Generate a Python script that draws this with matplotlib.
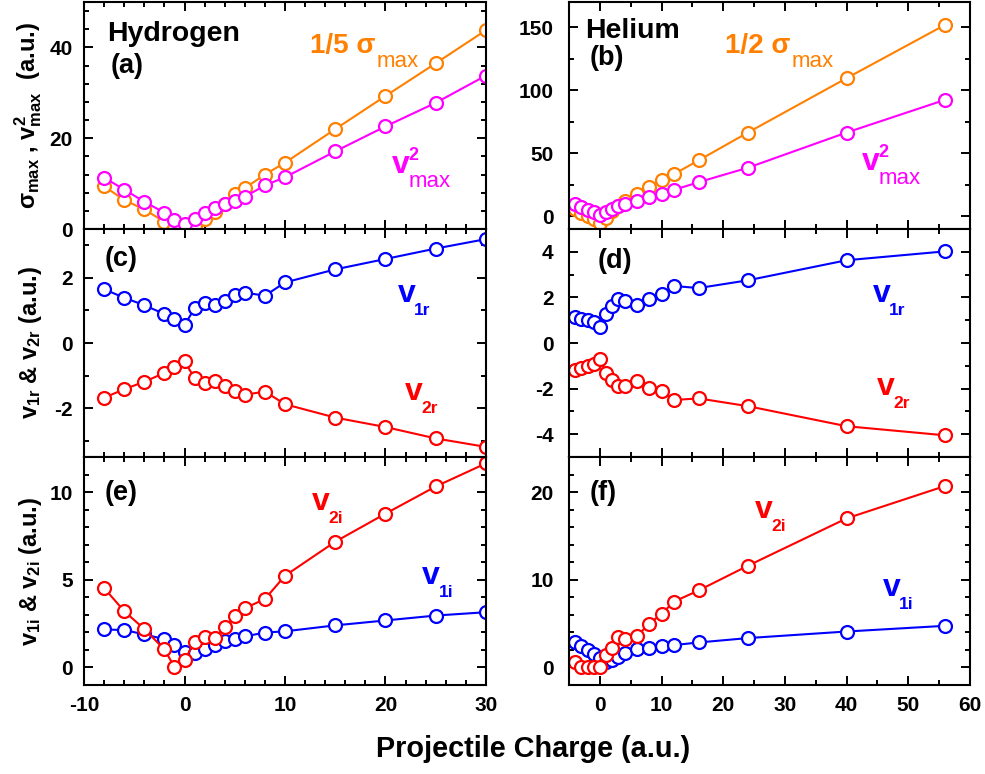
import numpy as np
import matplotlib
matplotlib.use('Agg')
import matplotlib.pyplot as plt
from matplotlib.ticker import MultipleLocator

plt.rcParams['font.family'] = ['Liberation Sans', 'DejaVu Sans']
plt.rcParams['font.weight'] = 'bold'
plt.rcParams['axes.labelweight'] = 'bold'
plt.rcParams['axes.unicode_minus'] = False
plt.rcParams['mathtext.fontset'] = 'custom'
plt.rcParams['mathtext.rm'] = 'Liberation Sans:bold'
plt.rcParams['mathtext.it'] = 'Liberation Sans:bold'
plt.rcParams['mathtext.bf'] = 'Liberation Sans:bold'

# projectile charges
q_h = [-8, -6, -4, -2, -1, 0, 1, 2, 3, 4, 5, 6, 8, 10, 15, 20, 25, 30]
q_he = [-4, -3, -2, -1, 0, 1, 2, 3, 4, 6, 8, 10, 12, 16, 24, 40, 56]

# hydrogen
sig5_h = [9.4, 6.4, 4.3, 1.6, 0.3, -0.5, 0.6, 2.1, 3.7, 5.6, 7.7, 9.0, 12.0, 14.6, 22.0, 29.3, 36.5, 43.8]
vmax2_h = [11.3, 8.7, 6.0, 3.6, 2.0, 1.0, 2.1, 3.6, 4.7, 5.5, 6.2, 7.1, 9.6, 11.4, 17.1, 22.6, 27.8, 33.8]
v1r_h = [1.65, 1.39, 1.16, 0.89, 0.73, 0.55, 1.06, 1.22, 1.16, 1.30, 1.46, 1.55, 1.45, 1.86, 2.26, 2.58, 2.90, 3.19]
v2r_h = [-1.68, -1.42, -1.19, -0.92, -0.74, -0.56, -1.08, -1.22, -1.17, -1.31, -1.47, -1.59, -1.49, -1.88, -2.29, -2.58, -2.93, -3.19]
v1i_h = [2.17, 2.13, 1.89, 1.61, 1.27, 0.90, 0.81, 1.04, 1.27, 1.51, 1.61, 1.77, 1.99, 2.06, 2.40, 2.68, 2.96, 3.15]
v2i_h = [4.53, 3.21, 2.19, 1.03, 0.03, 0.40, 1.48, 1.76, 1.70, 2.28, 2.93, 3.38, 3.90, 5.23, 7.17, 8.77, 10.32, 11.64]

# helium
sig2_he = [5.5, 3.0, 0.5, -2.0, -5.0, -1.0, 4.0, 8.0, 12.6, 17.5, 23.4, 28.7, 33.5, 44.4, 66.5, 109.6, 152.0]
vmax2_he = [10.0, 7.3, 5.3, 3.5, 1.5, 3.4, 6.0, 7.9, 10.0, 12.0, 15.0, 17.8, 21.0, 27.1, 38.6, 66.5, 92.5]
v1r_he = [1.13, 1.07, 1.00, 0.91, 0.70, 1.29, 1.62, 1.91, 1.85, 1.67, 1.94, 2.13, 2.50, 2.41, 2.75, 3.63, 4.02]
v2r_he = [-1.17, -1.10, -1.00, -0.92, -0.72, -1.32, -1.63, -1.90, -1.88, -1.68, -1.96, -2.12, -2.50, -2.43, -2.77, -3.65, -4.05]
v1i_he = [2.85, 2.40, 2.00, 1.56, 1.10, 0.60, 0.90, 1.20, 1.70, 2.10, 2.25, 2.40, 2.55, 2.85, 3.35, 4.10, 4.75]
v2i_he = [0.6, 0.0, 0.0, 0.0, 0.0, 1.45, 2.25, 3.45, 3.2, 3.55, 5.0, 6.1, 7.5, 8.78, 11.6, 17.0, 20.7]

ORANGE = '#FF8000'
MAGENTA = '#FF00FF'
BLUE = '#0000FF'
RED = '#FF0000'

fig = plt.figure(figsize=(9.85, 7.74), dpi=100)
xl, xr = 0.08528, 0.57766
wl, wr = 0.40812, 0.40711
ax_a = fig.add_axes([xl, 0.70413, wl, 0.29328])
ax_b = fig.add_axes([xr, 0.70413, wr, 0.29328])
ax_c = fig.add_axes([xl, 0.40956, wl, 0.29457])
ax_d = fig.add_axes([xr, 0.40956, wr, 0.29457])
ax_e = fig.add_axes([xl, 0.11499, wl, 0.29457])
ax_f = fig.add_axes([xr, 0.11499, wr, 0.29457])


def style(ax, xlim, ylim, xmaj, xmin, ymaj, ymin, ypad, bottom_labels):
    ax.set_xlim(xlim)
    ax.set_ylim(ylim)
    ax.xaxis.set_major_locator(MultipleLocator(xmaj))
    ax.xaxis.set_minor_locator(MultipleLocator(xmin))
    ax.yaxis.set_major_locator(MultipleLocator(ymaj))
    ax.yaxis.set_minor_locator(MultipleLocator(ymin))
    ax.tick_params(which='both', direction='in', top=True, right=True, width=1.4, labelsize=15)
    ax.tick_params(which='major', length=6.5)
    ax.tick_params(which='minor', length=3.5)
    ax.tick_params(axis='y', pad=ypad)
    ax.tick_params(axis='x', pad=8, labelbottom=bottom_labels)
    for s in ax.spines.values():
        s.set_linewidth(1.5)


def curve(ax, x, y, color):
    ax.plot(x, y, '-o', color=color, lw=1.5, ms=9.3, mew=1.6, mfc='white', mec=color)


def vlabel(ax, x, y, sub, color, sup=None):
    t = ax.text(x, y, 'v', transform=ax.transAxes, fontsize=23, color=color, va='baseline')
    if sup is None:
        ax.annotate(sub, xy=(1, 0), xycoords=t, xytext=(-1, -4.2), textcoords='offset points',
                    fontsize=12.5, color=color, va='baseline')
    else:
        ax.annotate(sup, xy=(1, 0), xycoords=t, xytext=(-1, 14.2), textcoords='offset points',
                    fontsize=13, color=color, va='baseline')
        ax.annotate(sub, xy=(1, 0), xycoords=t, xytext=(-1, -5.2), textcoords='offset points',
                    fontsize=16, fontweight='normal', color=color, va='baseline')


def siglabel(ax, x, y, main, color):
    t = ax.text(x, y, main, transform=ax.transAxes, fontsize=20, color=color, va='baseline')
    ax.annotate('max', xy=(1, 0), xycoords=t, xytext=(1, -5.8), textcoords='offset points',
                fontsize=16, fontweight='normal', color=color, va='baseline')


# (a) hydrogen sigma / v^2
curve(ax_a, q_h, sig5_h, ORANGE)
curve(ax_a, q_h, vmax2_h, MAGENTA)
style(ax_a, (-10, 30), (0, 50), 10, 2, 20, 4, 8, False)
ax_a.text(0.058, 0.828, 'Hydrogen', transform=ax_a.transAxes, fontsize=20.5, va='baseline')
ax_a.text(0.065, 0.687, '(a)', transform=ax_a.transAxes, fontsize=19.5, va='baseline')
siglabel(ax_a, 0.562, 0.775, '1/5 σ', ORANGE)
vlabel(ax_a, 0.766, 0.247, 'max', MAGENTA, sup='2')
ax_a.set_ylabel(r'$\sigma_{max}$ , $v^{2}_{max}$  (a.u.)', fontsize=17)

# (b) helium sigma / v^2
curve(ax_b, q_he, sig2_he, ORANGE)
curve(ax_b, q_he, vmax2_he, MAGENTA)
style(ax_b, (-5, 60), (-10, 170), 10, 5, 50, 25, 11, False)
ax_b.text(0.040, 0.841, 'Helium', transform=ax_b.transAxes, fontsize=20.5, va='baseline')
ax_b.text(0.052, 0.722, '(b)', transform=ax_b.transAxes, fontsize=19.5, va='baseline')
siglabel(ax_b, 0.389, 0.775, '1/2 σ', ORANGE)
vlabel(ax_b, 0.731, 0.260, 'max', MAGENTA, sup='2')

# (c) hydrogen real parts
curve(ax_c, q_h, v1r_h, BLUE)
curve(ax_c, q_h, v2r_h, RED)
style(ax_c, (-10, 30), (-3.5, 3.5), 10, 2, 2, 1, 8, False)
ax_c.text(0.052, 0.838, '(c)', transform=ax_c.transAxes, fontsize=19.5, va='baseline')
vlabel(ax_c, 0.781, 0.681, '1r', BLUE)
vlabel(ax_c, 0.799, 0.250, '2r', RED)
ax_c.set_ylabel(r'$v_{1r}$ & $v_{2r}$ (a.u.)', fontsize=17)

# (d) helium real parts
curve(ax_d, q_he, v1r_he, BLUE)
curve(ax_d, q_he, v2r_he, RED)
style(ax_d, (-5, 60), (-5, 5), 10, 5, 2, 1, 11, False)
ax_d.text(0.072, 0.829, '(d)', transform=ax_d.transAxes, fontsize=19.5, va='baseline')
vlabel(ax_d, 0.758, 0.681, '1r', BLUE)
vlabel(ax_d, 0.768, 0.272, '2r', RED)

# (e) hydrogen imaginary parts
curve(ax_e, q_h, v1i_h, BLUE)
curve(ax_e, q_h, v2i_h, RED)
style(ax_e, (-10, 30), (-1, 12), 10, 2, 5, 1, 8, True)
ax_e.text(0.052, 0.811, '(e)', transform=ax_e.transAxes, fontsize=19.5, va='baseline')
vlabel(ax_e, 0.567, 0.768, '2i', RED)
vlabel(ax_e, 0.841, 0.443, '1i', BLUE)
ax_e.set_ylabel(r'$v_{1i}$ & $v_{2i}$ (a.u.)', fontsize=17)

# (f) helium imaginary parts
curve(ax_f, q_he, v1i_he, BLUE)
curve(ax_f, q_he, v2i_he, RED)
style(ax_f, (-5, 60), (-2, 24), 10, 5, 10, 2, 11, True)
ax_f.text(0.052, 0.811, '(f)', transform=ax_f.transAxes, fontsize=19.5, va='baseline')
vlabel(ax_f, 0.464, 0.732, '2i', RED)
vlabel(ax_f, 0.783, 0.390, '1i', BLUE)

for ax in (ax_a, ax_c, ax_e):
    ax.yaxis.set_label_coords(-0.10, 0.5)

fig.text(533 / 985, 17 / 774, 'Projectile Charge (a.u.)', fontsize=20.8, ha='center', va='baseline')

fig.savefig('out.png', dpi=100)
